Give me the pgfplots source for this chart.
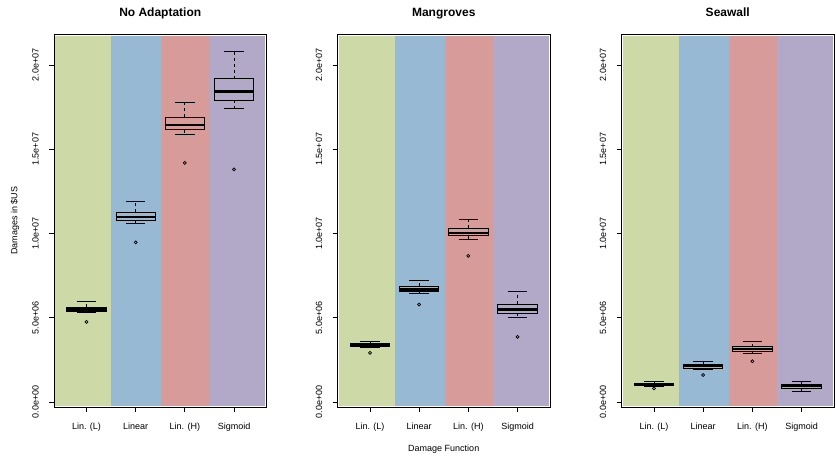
\documentclass[border=0pt]{standalone}
\usepackage{pgfplots}
\pgfplotsset{compat=1.18}
\usepgfplotslibrary{statistics}
\usepackage{fontspec}
\setmainfont{Liberation Sans}
\definecolor{cg}{RGB}{205,218,168}
\definecolor{cb}{RGB}{151,185,212}
\definecolor{cr}{RGB}{215,156,154}
\definecolor{cp}{RGB}{178,169,201}
\pgfplotsset{
  boxplot/draw/lower whisker/.code={%
    \draw[dash pattern=on 3bp off 3bp] (boxplot box cs:\pgfplotsboxplotvalue{lower quartile},0.5) -- (boxplot box cs:\pgfplotsboxplotvalue{lower whisker},0.5);
    \draw[solid] (boxplot whisker cs:\pgfplotsboxplotvalue{lower whisker},0) -- (boxplot whisker cs:\pgfplotsboxplotvalue{lower whisker},1);
  },
  boxplot/draw/upper whisker/.code={%
    \draw[dash pattern=on 3bp off 3bp] (boxplot box cs:\pgfplotsboxplotvalue{upper quartile},0.5) -- (boxplot box cs:\pgfplotsboxplotvalue{upper whisker},0.5);
    \draw[solid] (boxplot whisker cs:\pgfplotsboxplotvalue{upper whisker},0) -- (boxplot whisker cs:\pgfplotsboxplotvalue{upper whisker},1);
  },
  boxplot/draw/median/.code={%
    \draw[line width=2.2bp, solid] (boxplot box cs:\pgfplotsboxplotvalue{median},0) -- (boxplot box cs:\pgfplotsboxplotvalue{median},1);
  },
  panel/.style={
    anchor=south west, scale only axis, width=212.5bp, height=373bp,
    xmin=0.34, xmax=4.66, ymin=-0.3, ymax=21.84,
    xtick={1,2,3,4}, xticklabels={Lin. (L),Linear,Lin. (H),Sigmoid},
    ytick={0,5,10,15,20}, yticklabels={0.0e+00,5.0e+06,1.0e+07,1.5e+07,2.0e+07},
    scaled y ticks=false,
    tick align=outside, xtick pos=bottom, ytick pos=left,
    major tick length=5bp,
    axis line style={line width=0.8bp, black},
    every tick/.style={black, line width=0.8bp},
    tick label style={font=\fontsize{9bp}{10bp}\selectfont},
    xticklabel style={anchor=base, yshift=-17bp},
    yticklabel style={xshift=-10.5bp, rotate=90, anchor=base},
    title style={font=\bfseries\fontsize{12bp}{14bp}\selectfont, at={(0.5,1)}, anchor=base, yshift=11.5bp},
    label style={font=\fontsize{9bp}{10bp}\selectfont},
    axis on top,
  },
  bx/.style={black, solid, line width=0.75bp, mark=o, mark size=1.5bp, mark options={solid, line width=0.7bp},
    boxplot/draw direction=y, boxplot/box extend=0.8, boxplot/whisker extend=0.4},
}
\newcommand\bgrects{%
  \addplot[fill=cg, draw=none] coordinates {(0.365,-0.25) (1.5,-0.25) (1.5,21.75) (0.365,21.75)} -- cycle;
  \addplot[fill=cb, draw=none] coordinates {(1.5,-0.25) (2.52,-0.25) (2.52,21.75) (1.5,21.75)} -- cycle;
  \addplot[fill=cr, draw=none] coordinates {(2.52,-0.25) (3.51,-0.25) (3.51,21.75) (2.52,21.75)} -- cycle;
  \addplot[fill=cp, draw=none] coordinates {(3.51,-0.25) (4.63,-0.25) (4.63,21.75) (3.51,21.75)} -- cycle;
}
\begin{document}
\begin{tikzpicture}
\path[use as bounding box] (0,0) rectangle (836bp,456bp);
% Panel 1
\begin{axis}[panel, at={(54bp,49bp)}, title={No Adaptation}, ylabel={Damages in \$US},
  ylabel style={at={(axis description cs:-0.1835,0.5)}, anchor=center}]
\bgrects
\addplot[bx, boxplot prepared={draw position=1, lower whisker=5.29, lower quartile=5.39, median=5.49, upper quartile=5.64, upper whisker=5.96}]
  table[row sep=\\, y index=0] {data\\ 4.75\\};
\addplot[bx, boxplot prepared={draw position=2, lower whisker=10.57, lower quartile=10.77, median=10.99, upper quartile=11.27, upper whisker=11.88}]
  table[row sep=\\, y index=0] {data\\ 9.47\\};
\addplot[bx, boxplot prepared={draw position=3, lower whisker=15.88, lower quartile=16.15, median=16.43, upper quartile=16.89, upper whisker=17.81}]
  table[row sep=\\, y index=0] {data\\ 14.19\\};
\addplot[bx, boxplot prepared={draw position=4, lower whisker=17.40, lower quartile=17.92, median=18.43, upper quartile=19.18, upper whisker=20.78}]
  table[row sep=\\, y index=0] {data\\ 13.80\\};
\end{axis}
% Panel 2
\begin{axis}[panel, at={(337.5bp,49bp)}, title={Mangroves}, xlabel={Damage Function},
  xlabel style={at={(axis description cs:0.5,-0.112)}, anchor=center}]
\bgrects
\addplot[bx, boxplot prepared={draw position=1, lower whisker=3.21, lower quartile=3.27, median=3.37, upper quartile=3.47, upper whisker=3.62}]
  table[row sep=\\, y index=0] {data\\ 2.91\\};
\addplot[bx, boxplot prepared={draw position=2, lower whisker=6.44, lower quartile=6.56, median=6.67, upper quartile=6.87, upper whisker=7.23}]
  table[row sep=\\, y index=0] {data\\ 5.78\\};
\addplot[bx, boxplot prepared={draw position=3, lower whisker=9.66, lower quartile=9.86, median=10.04, upper quartile=10.30, upper whisker=10.83}]
  table[row sep=\\, y index=0] {data\\ 8.67\\};
\addplot[bx, boxplot prepared={draw position=4, lower whisker=5.03, lower quartile=5.27, median=5.49, upper quartile=5.82, upper whisker=6.57}]
  table[row sep=\\, y index=0] {data\\ 3.86\\};
\end{axis}
% Panel 3
\begin{axis}[panel, at={(621.5bp,49bp)}, title={Seawall}]
\bgrects
\addplot[bx, boxplot prepared={draw position=1, lower whisker=0.95, lower quartile=0.99, median=1.05, upper quartile=1.11, upper whisker=1.21}]
  table[row sep=\\, y index=0] {data\\ 0.81\\};
\addplot[bx, boxplot prepared={draw position=2, lower whisker=1.94, lower quartile=2.02, median=2.12, upper quartile=2.22, upper whisker=2.42}]
  table[row sep=\\, y index=0] {data\\ 1.60\\};
\addplot[bx, boxplot prepared={draw position=3, lower whisker=2.91, lower quartile=3.03, median=3.15, upper quartile=3.29, upper whisker=3.62}]
  table[row sep=\\, y index=0] {data\\ 2.42\\};
\addplot[bx, boxplot prepared={draw position=4, lower whisker=0.62, lower quartile=0.83, median=0.95, upper quartile=1.05, upper whisker=1.25}]
  coordinates {};
\end{axis}
\end{tikzpicture}
\end{document}
